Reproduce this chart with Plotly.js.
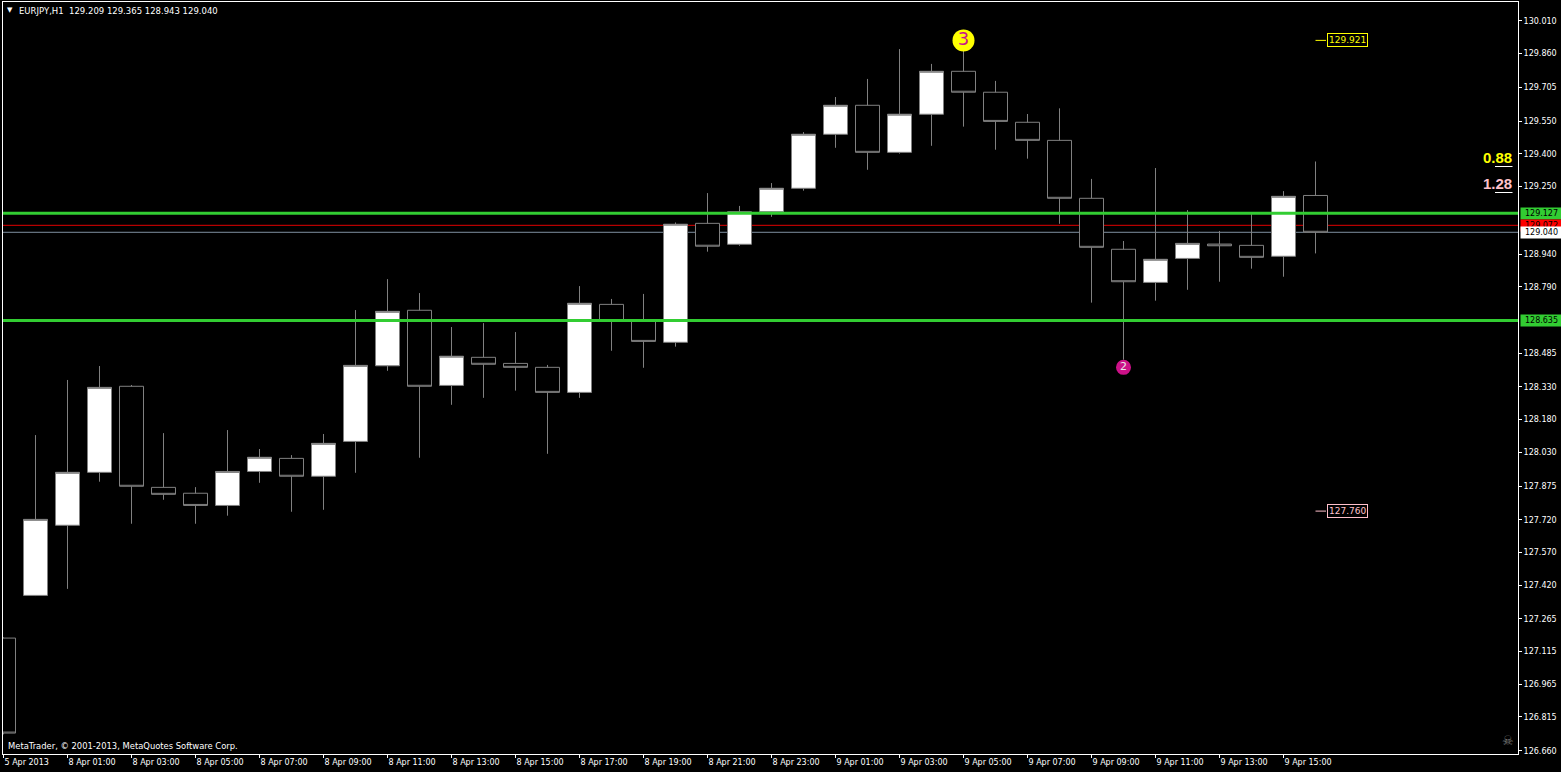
<!DOCTYPE html>
<html><head><meta charset="utf-8">
<script src="https://cdn.plot.ly/plotly-3.0.1.min.js"></script>
<style>html,body{margin:0;padding:0;background:#000;overflow:hidden}#chart{width:1561px;height:772px}</style>
</head><body><div id="chart"></div>
<script>
// ---------- data (EURJPY H1, 5 Apr 23:00 .. 9 Apr 16:00) ----------
const symbol = 'EURJPY,H1';
const opens  = [127.177,127.373,127.695,127.938,128.333,127.869,127.842,127.786,127.942,128.002,
                127.920,128.080,128.427,128.682,128.337,128.466,128.438,128.420,128.305,128.709,
                128.638,128.535,129.081,128.985,129.134,129.242,129.490,129.623,129.407,129.582,
                129.779,129.683,129.545,129.462,129.196,128.962,128.810,128.920,128.986,128.980,
                128.930,129.209];
const highs  = [127.180,128.109,128.362,128.426,128.339,128.118,127.870,128.132,128.045,128.017,
                128.114,128.683,128.825,128.761,128.605,128.623,128.582,128.431,128.793,128.734,
                128.757,129.085,129.220,129.161,129.266,129.500,129.661,129.744,129.881,129.813,
                129.921,129.735,129.583,129.609,129.285,129.000,129.335,129.142,129.046,129.132,
                129.229,129.365];
const lows   = [126.735,127.370,127.403,127.895,127.702,127.812,127.702,127.739,127.890,127.757,
                127.766,127.936,128.404,128.005,128.248,128.280,128.313,128.023,128.280,128.496,
                128.418,128.515,128.951,128.978,129.111,129.231,129.428,129.327,129.401,129.437,
                129.525,129.419,129.378,129.079,128.717,128.455,128.726,128.776,128.813,128.873,
                128.836,128.943];
const closes = [126.741,127.722,127.938,128.328,127.874,127.837,127.786,127.942,128.007,127.920,
                128.071,128.429,128.677,128.333,128.471,128.434,128.420,128.305,128.714,128.633,
                128.539,129.077,128.976,129.134,129.242,129.490,129.623,129.407,129.582,129.779,
                129.683,129.549,129.462,129.196,128.971,128.813,128.916,128.989,128.978,128.925,
                129.205,129.040];
const timeLabels = ['5 Apr 2013','8 Apr 01:00','8 Apr 03:00','8 Apr 05:00','8 Apr 07:00','8 Apr 09:00',
                    '8 Apr 11:00','8 Apr 13:00','8 Apr 15:00','8 Apr 17:00','8 Apr 19:00','8 Apr 21:00',
                    '8 Apr 23:00','9 Apr 01:00','9 Apr 03:00','9 Apr 05:00','9 Apr 07:00','9 Apr 09:00',
                    '9 Apr 11:00','9 Apr 13:00','9 Apr 15:00'];
const priceTicks = [130.010,129.860,129.705,129.550,129.400,129.250,128.940,128.790,128.485,128.330,
                    128.180,128.030,127.875,127.720,127.570,127.420,127.265,127.115,126.965,126.815,126.660];
const supportLevels = [129.127, 128.635];
const askPrice = 129.072;
const bidPrice = 129.040;
const waveNames  = ['3', '2'];
const waveBars   = [30, 35];
const wavePrices = [129.921, 128.420];
const targetLevels = [129.921, 127.760];
const ratioTexts = ['0.88', '1.28'];

// ---------- layout helpers ----------
const W = 1561, H = 772, M = {l:3, r:43, t:2, b:18};
const PW = W - M.l - M.r, PH = H - M.t - M.b;
const px = v => (v - M.l) / PW;
const py = v => (H - M.b - v) / PH;
const FONT = 'DejaVu Sans';
const idx = opens.map((_, i) => i);
const tickIdx = timeLabels.map((_, i) => i * 2);
const last = idx[idx.length - 1];

const traces = [
  {type:'candlestick', x:idx, open:opens, high:highs, low:lows, close:closes,
   increasing:{line:{color:'#808080', width:1}, fillcolor:'#ffffff'},
   decreasing:{line:{color:'#808080', width:1}, fillcolor:'#000000'},
   whiskerwidth:0, hoverinfo:'skip'},
  {type:'scatter', mode:'markers+text', x:[waveBars[0]], y:[wavePrices[0]], text:[waveNames[0]],
   marker:{size:22, color:'#ffff00'}, textposition:'middle center',
   textfont:{family:FONT, size:18, color:'#c8148c'}, hoverinfo:'skip', cliponaxis:false},
  {type:'scatter', mode:'markers+text', x:[waveBars[1]], y:[wavePrices[1]], text:[waveNames[1]],
   marker:{size:15, color:'#cc1188'}, textposition:'middle center',
   textfont:{family:FONT, size:11, color:'#e8e8e8'}, hoverinfo:'skip', cliponaxis:false}
];

const shapes = [];
shapes.push({type:'line', xref:'paper', x0:0, x1:1, yref:'y', y0:bidPrice, y1:bidPrice,
             line:{color:'#7f8fa0', width:1}, layer:'below'});
shapes.push({type:'line', xref:'paper', x0:0, x1:1, yref:'y', y0:askPrice, y1:askPrice,
             line:{color:'#e00000', width:1}, layer:'below'});
supportLevels.forEach(l => shapes.push({type:'line', xref:'paper', x0:0, x1:1, yref:'y', y0:l, y1:l,
             line:{color:'#32cd32', width:3}, layer:'above'}));
const targetColors = ['#ffff00', '#ffc0cb'];
targetLevels.forEach((l, k) => shapes.push({type:'line', xref:'x', x0:last, x1:last + 10.5/32,
             yref:'y', y0:l, y1:l, line:{color:targetColors[k], width:1}}));
[166.5, 192.5].forEach(yy => shapes.push({type:'line', xref:'paper', yref:'paper',
             x0:px(1495), x1:px(1512.5), y0:py(yy), y1:py(yy), line:{color:'#ffffff', width:1}}));

function priceTag(price, bg, fg) {
  return {xref:'paper', x:1, xanchor:'left', xshift:2, yref:'y', y:price, yanchor:'middle',
          text:price.toFixed(3), showarrow:false, bgcolor:bg, width:39, height:9, borderpad:1,
          align:'center', font:{family:FONT, size:8, color:fg}};
}
const annotations = [
  priceTag(supportLevels[0], '#32cd32', '#000000'),
  priceTag(askPrice, '#ff0000', '#000000'),
  priceTag(bidPrice, '#ffffff', '#000000'),
  priceTag(supportLevels[1], '#32cd32', '#000000'),
  {xref:'paper', yref:'paper', x:px(9.5), y:py(10.5), xanchor:'center', yanchor:'middle',
   text:'▼', showarrow:false, borderpad:0, font:{family:FONT, size:7, color:'#ffffff'}},
  {xref:'paper', yref:'paper', x:px(18), y:py(10.8), xanchor:'left', yanchor:'middle', borderpad:0,
   text: symbol + '\u00a0\u00a0' + [opens[last], highs[last], lows[last], closes[last]].map(v => v.toFixed(3)).join('\u00a0'),
   showarrow:false, font:{family:FONT, size:8.5, color:'#ffffff'}},
  {xref:'paper', yref:'paper', x:px(7), y:py(745.5), xanchor:'left', yanchor:'middle', borderpad:0,
   text:'MetaTrader, © 2001-2013, MetaQuotes Software Corp.', showarrow:false,
   font:{family:FONT, size:8.4, color:'#ffffff'}},
  {xref:'paper', yref:'paper', x:px(1507.5), y:py(740), xanchor:'center', yanchor:'middle', borderpad:0,
   text:'☠', showarrow:false, font:{family:FONT, size:13, color:'#7a7a7a'}},
  {xref:'paper', yref:'paper', x:px(1513), y:py(157.5), xanchor:'right', yanchor:'middle', borderpad:0,
   text:ratioTexts[0], showarrow:false, font:{family:'Liberation Sans', size:15, color:'#ffff00', weight:'bold'}},
  {xref:'paper', yref:'paper', x:px(1513), y:py(183.5), xanchor:'right', yanchor:'middle', borderpad:0,
   text:ratioTexts[1], showarrow:false, font:{family:'Liberation Sans', size:15, color:'#ffc0cb', weight:'bold'}}
];
targetLevels.forEach((l, k) => annotations.push({xref:'x', x:last, xshift:11, xanchor:'left',
   yref:'y', y:l, yanchor:'middle', text:l.toFixed(3), showarrow:false, bgcolor:'#000000',
   bordercolor:targetColors[k], borderwidth:1, borderpad:1,
   font:{family:FONT, size:9, color:targetColors[k]}}));

const layout = {
  width:W, height:H, margin:{l:M.l, r:M.r, t:M.t, b:M.b, pad:0},
  paper_bgcolor:'#000000', plot_bgcolor:'#000000', showlegend:false,
  boxgap:0.25, boxgroupgap:0, hovermode:false, dragmode:false,
  xaxis:{range:[(M.l - 3.5)/32, (W - M.r - 3.5)/32], showgrid:false, zeroline:false,
         showline:true, linecolor:'#ffffff', linewidth:1, mirror:true,
         ticks:'outside', ticklen:3, tickcolor:'#ffffff', tickwidth:1,
         tickvals:tickIdx, ticktext:timeLabels, ticklabelposition:'outside right',
         tickfont:{family:FONT, size:8, color:'#ffffff'}, rangeslider:{visible:false}, fixedrange:true},
  yaxis:{range:[126.6449, 130.0972], side:'right', showgrid:false, zeroline:false,
         showline:true, linecolor:'#ffffff', linewidth:1, mirror:true,
         ticks:'outside', ticklen:3, tickcolor:'#ffffff', tickwidth:1,
         tickvals:priceTicks, ticktext:priceTicks.map(v => v.toFixed(3)),
         tickfont:{family:FONT, size:8, color:'#ffffff'}, fixedrange:true},
  shapes:shapes, annotations:annotations
};
Plotly.newPlot('chart', traces, layout, {displayModeBar:false, staticPlot:true});
</script></body></html>
